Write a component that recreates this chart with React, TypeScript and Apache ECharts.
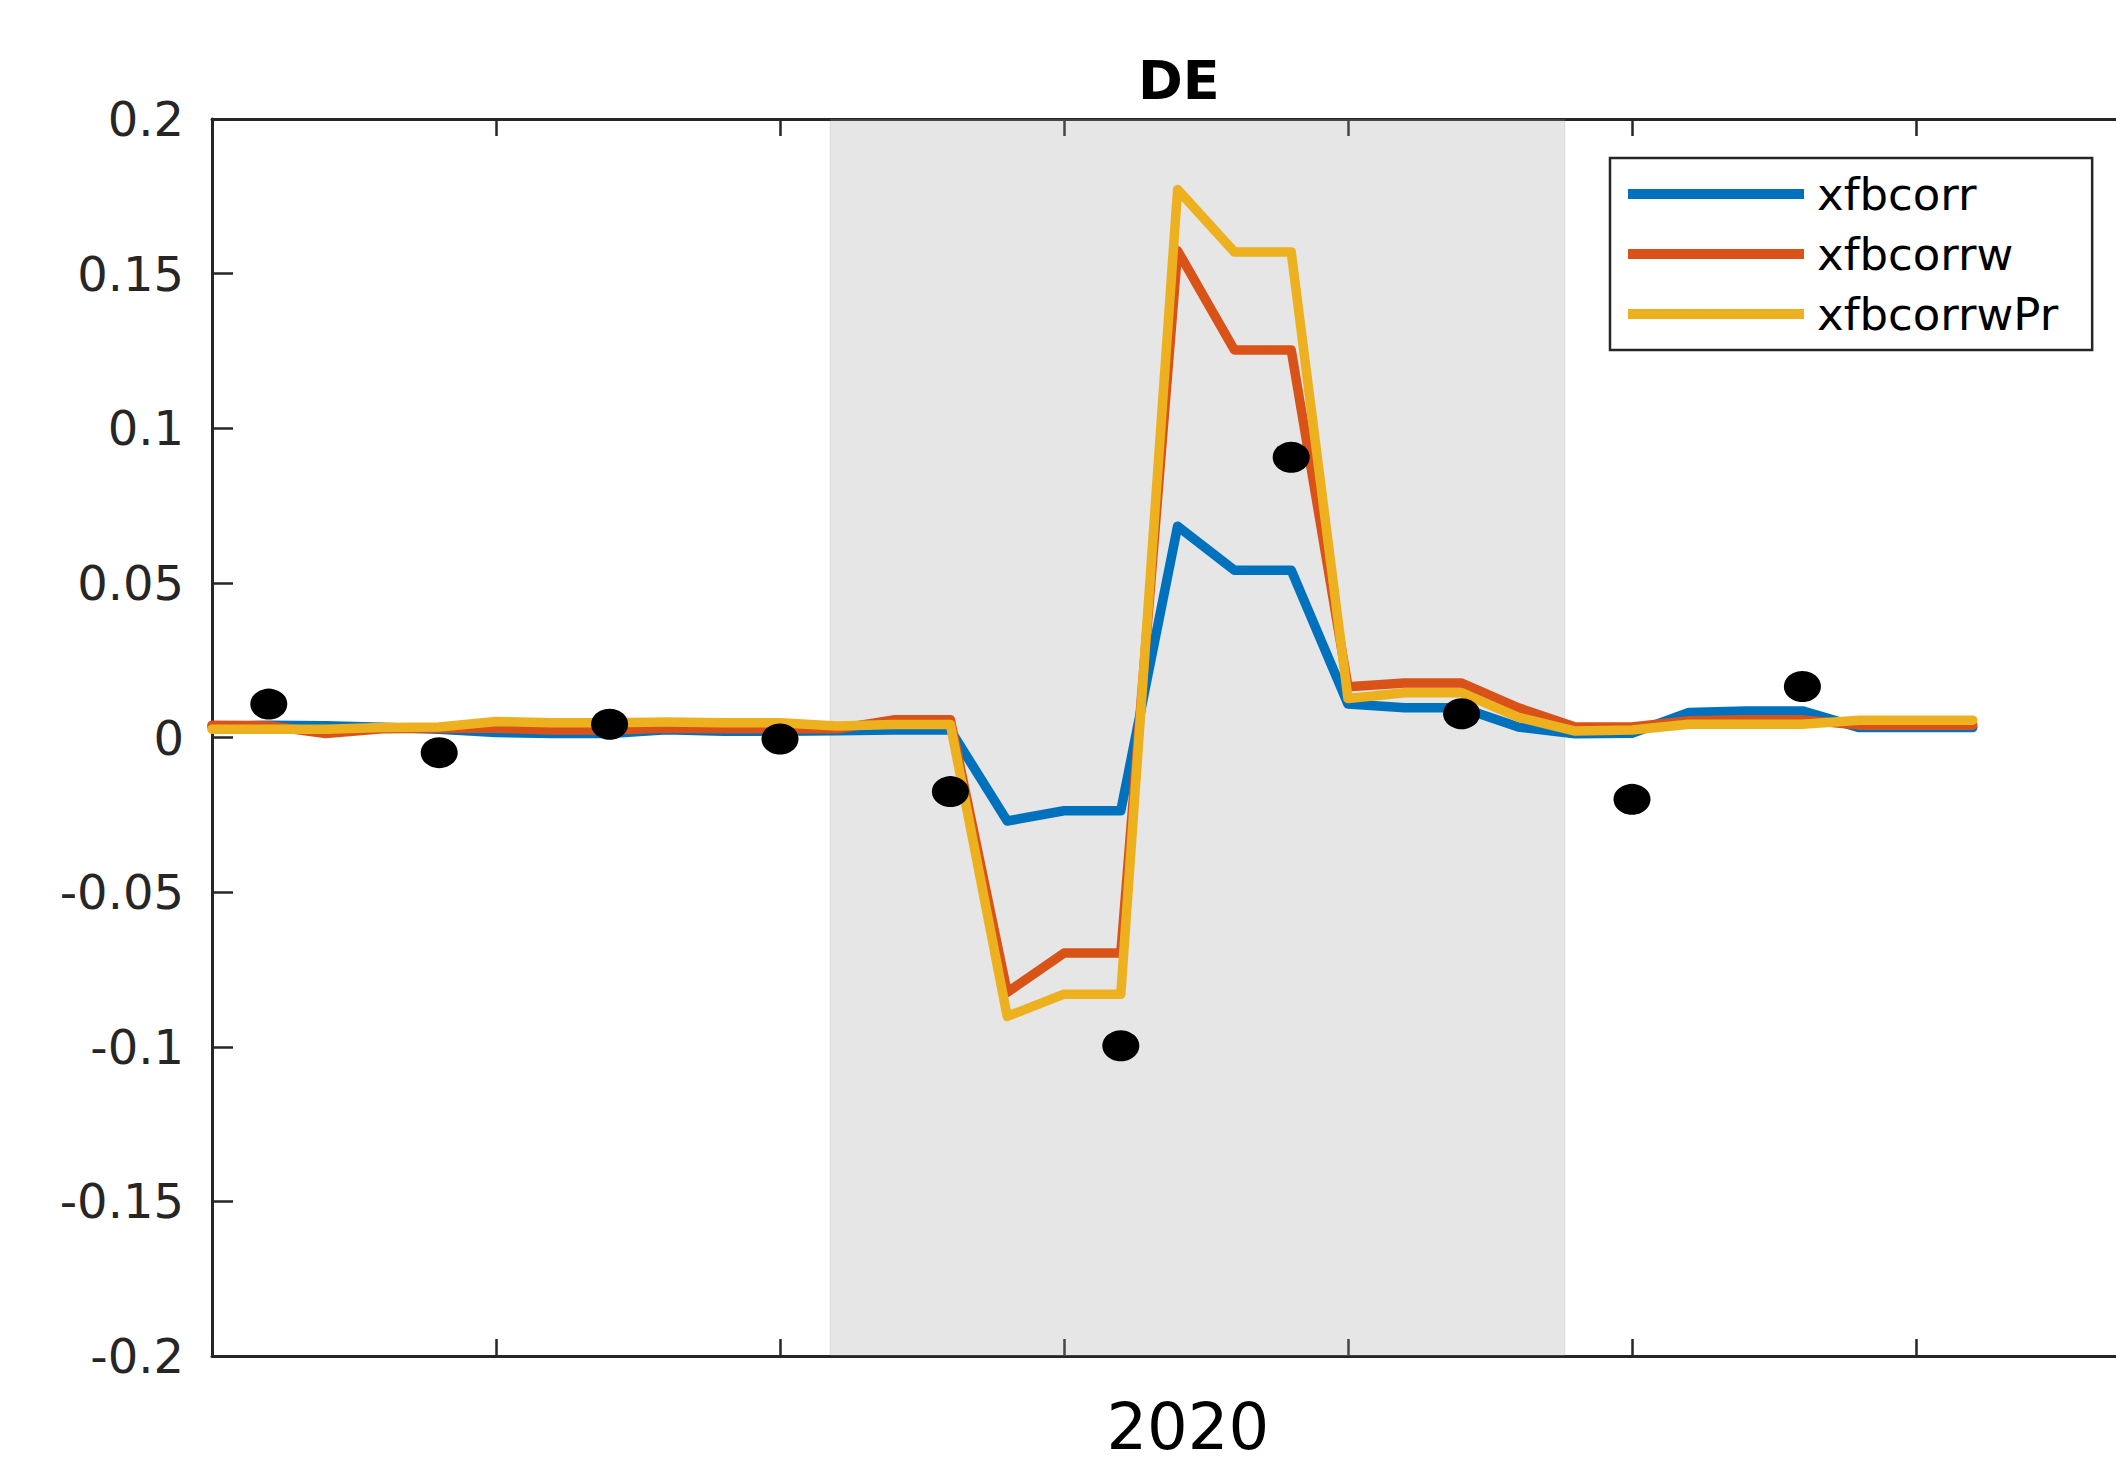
import React, { useEffect, useRef } from "react";
import * as echarts from "echarts";

// month index 0..31
const xfbcorr = [
  0.0035, 0.004, 0.0038, 0.0033, 0.0027, 0.0016, 0.0013, 0.0013, 0.0025, 0.002,
  0.002, 0.0022, 0.0024, 0.0024, -0.027, -0.0237, -0.0237, 0.0683, 0.0541, 0.0541,
  0.0108, 0.0096, 0.0096, 0.0034, 0.0012, 0.0014, 0.0081, 0.0086, 0.0086, 0.0032,
  0.0032, 0.0032,
];
const xfbcorrw = [
  0.004, 0.0038, 0.0013, 0.0028, 0.003, 0.003, 0.0024, 0.0024, 0.003, 0.0028,
  0.0028, 0.0028, 0.0057, 0.0057, -0.0824, -0.0697, -0.0697, 0.1574, 0.1253, 0.1253,
  0.0164, 0.0176, 0.0176, 0.0096, 0.0034, 0.0034, 0.0054, 0.0057, 0.0057, 0.004,
  0.004, 0.004,
];
const xfbcorrwPr = [
  0.0027, 0.0027, 0.0027, 0.0032, 0.0034, 0.0052, 0.0048, 0.0048, 0.005, 0.0048,
  0.0048, 0.0037, 0.0042, 0.0042, -0.0902, -0.083, -0.083, 0.1772, 0.157, 0.157,
  0.0126, 0.0145, 0.0145, 0.0065, 0.0021, 0.0024, 0.0043, 0.0043, 0.0043, 0.0056,
  0.0056, 0.0056,
];
const dotX = [1, 4, 7, 10, 13, 16, 19, 22, 25, 28];
const dotY = [0.0108, -0.0049, 0.0043, -0.0005, -0.0175, -0.0997, 0.0906, 0.0077, -0.02, 0.0165];
const shadeRange = [10.88, 23.82];
const seriesNames = ["xfbcorr", "xfbcorrw", "xfbcorrwPr"];
const seriesColors = ["#0072bd", "#d95319", "#edb120"];
const yearLabel = "2020";
const yearLabelPos = 17.18;
const xTickStep = 5;
const xMax = 35; // the axes box continues past the right edge of the figure

const FONT = "DejaVu Sans";

export default function App() {
  const ref = useRef<HTMLDivElement>(null);
  useEffect(() => {
    if (!ref.current) return;
    const chart = echarts.init(ref.current, null, { renderer: "svg" });
    const lineSets = [xfbcorr, xfbcorrw, xfbcorrwPr];
    const axisCommon = {
      type: "value" as const,
      min: 0,
      max: xMax,
      interval: xTickStep,
      axisLine: { show: true, onZero: false, lineStyle: { color: "#262626", width: 3 } },
      axisTick: {
        show: true,
        inside: true,
        length: 17,
        lineStyle: { color: "#262626", width: 2.5 },
      },
      axisLabel: { show: false },
      splitLine: { show: false },
    };
    const option: any = {
      animation: false,
      backgroundColor: "#ffffff",
      title: {
        text: "DE",
        left: 1133,
        top: 48,
        textStyle: { fontFamily: FONT, fontWeight: "bold", fontSize: 54, color: "#000" },
      },
      grid: { show: false, left: 212, top: 119, right: 0, bottom: 107, containLabel: false },
      xAxis: [
        { ...axisCommon, position: "bottom" },
        { ...axisCommon, position: "top" },
      ],
      yAxis: [
        {
          type: "value",
          min: -0.2,
          max: 0.2,
          interval: 0.05,
          axisLine: { show: true, onZero: false, lineStyle: { color: "#262626", width: 3 } },
          axisTick: { show: true, inside: true, length: 21, lineStyle: { color: "#262626", width: 2.5 } },
          axisLabel: {
            margin: 28,
            fontFamily: FONT,
            fontSize: 48,
            color: "#262626",
            formatter: (v: number) => String(Math.round(v * 100) / 100),
          },
          splitLine: { show: false },
        },
      ],
      legend: {
        orient: "vertical",
        left: 1610,
        top: 158,
        padding: [11, 34, 11, 18],
        itemWidth: 176,
        itemHeight: 10,
        itemGap: 10,
        icon: "rect",
        selectedMode: false,
        borderColor: "#262626",
        borderWidth: 2.5,
        backgroundColor: "#ffffff",
        data: seriesNames,
        textStyle: { fontFamily: FONT, fontSize: 45, color: "#000", lineHeight: 50, padding: [0, 0, 0, 8] },
      },
      series: [
        ...lineSets.map((vals, k) => ({
          name: seriesNames[k],
          type: "line",
          data: vals.map((v, i) => [i, v]),
          showSymbol: false,
          symbol: "none",
          color: seriesColors[k],
          lineStyle: { width: 9.5, color: seriesColors[k], cap: "round", join: "round" },
          z: 3 + k,
        })),
        {
          type: "scatter",
          data: dotX.map((x, i) => [x, dotY[i]]),
          symbol: "circle",
          symbolSize: [37, 31],
          itemStyle: { color: "#000", opacity: 1 },
          z: 7,
        },
        {
          type: "line",
          data: [],
          silent: true,
          z: 10,
          markArea: {
            silent: true,
            itemStyle: {
              color: "rgba(161,161,161,0.267)",
              borderColor: "rgba(0,0,0,0.04)",
              borderWidth: 2,
            },
            data: [[{ xAxis: shadeRange[0] }, { xAxis: shadeRange[1] }]],
          },
        },
      ],
    };
    chart.setOption(option);
    const px = chart.convertToPixel({ xAxisIndex: 0 }, yearLabelPos) as number;
    chart.setOption({
      graphic: [
        {
          type: "text",
          x: px,
          y: 1459,
          style: {
            text: yearLabel,
            font: `64px '${FONT}'`,
            fill: "#000",
            textAlign: "center",
            textVerticalAlign: "bottom",
          },
        },
      ],
    });
    return () => chart.dispose();
  }, []);
  // The figure is 2116 px wide; the chart canvas runs a little past it so that
  // the axes box is cut off at the right edge, as in the original figure.
  return (
    <div
      ref={ref}
      style={{ position: "fixed", left: 0, top: 0, width: 2200, height: 1463 }}
    />
  );
}
